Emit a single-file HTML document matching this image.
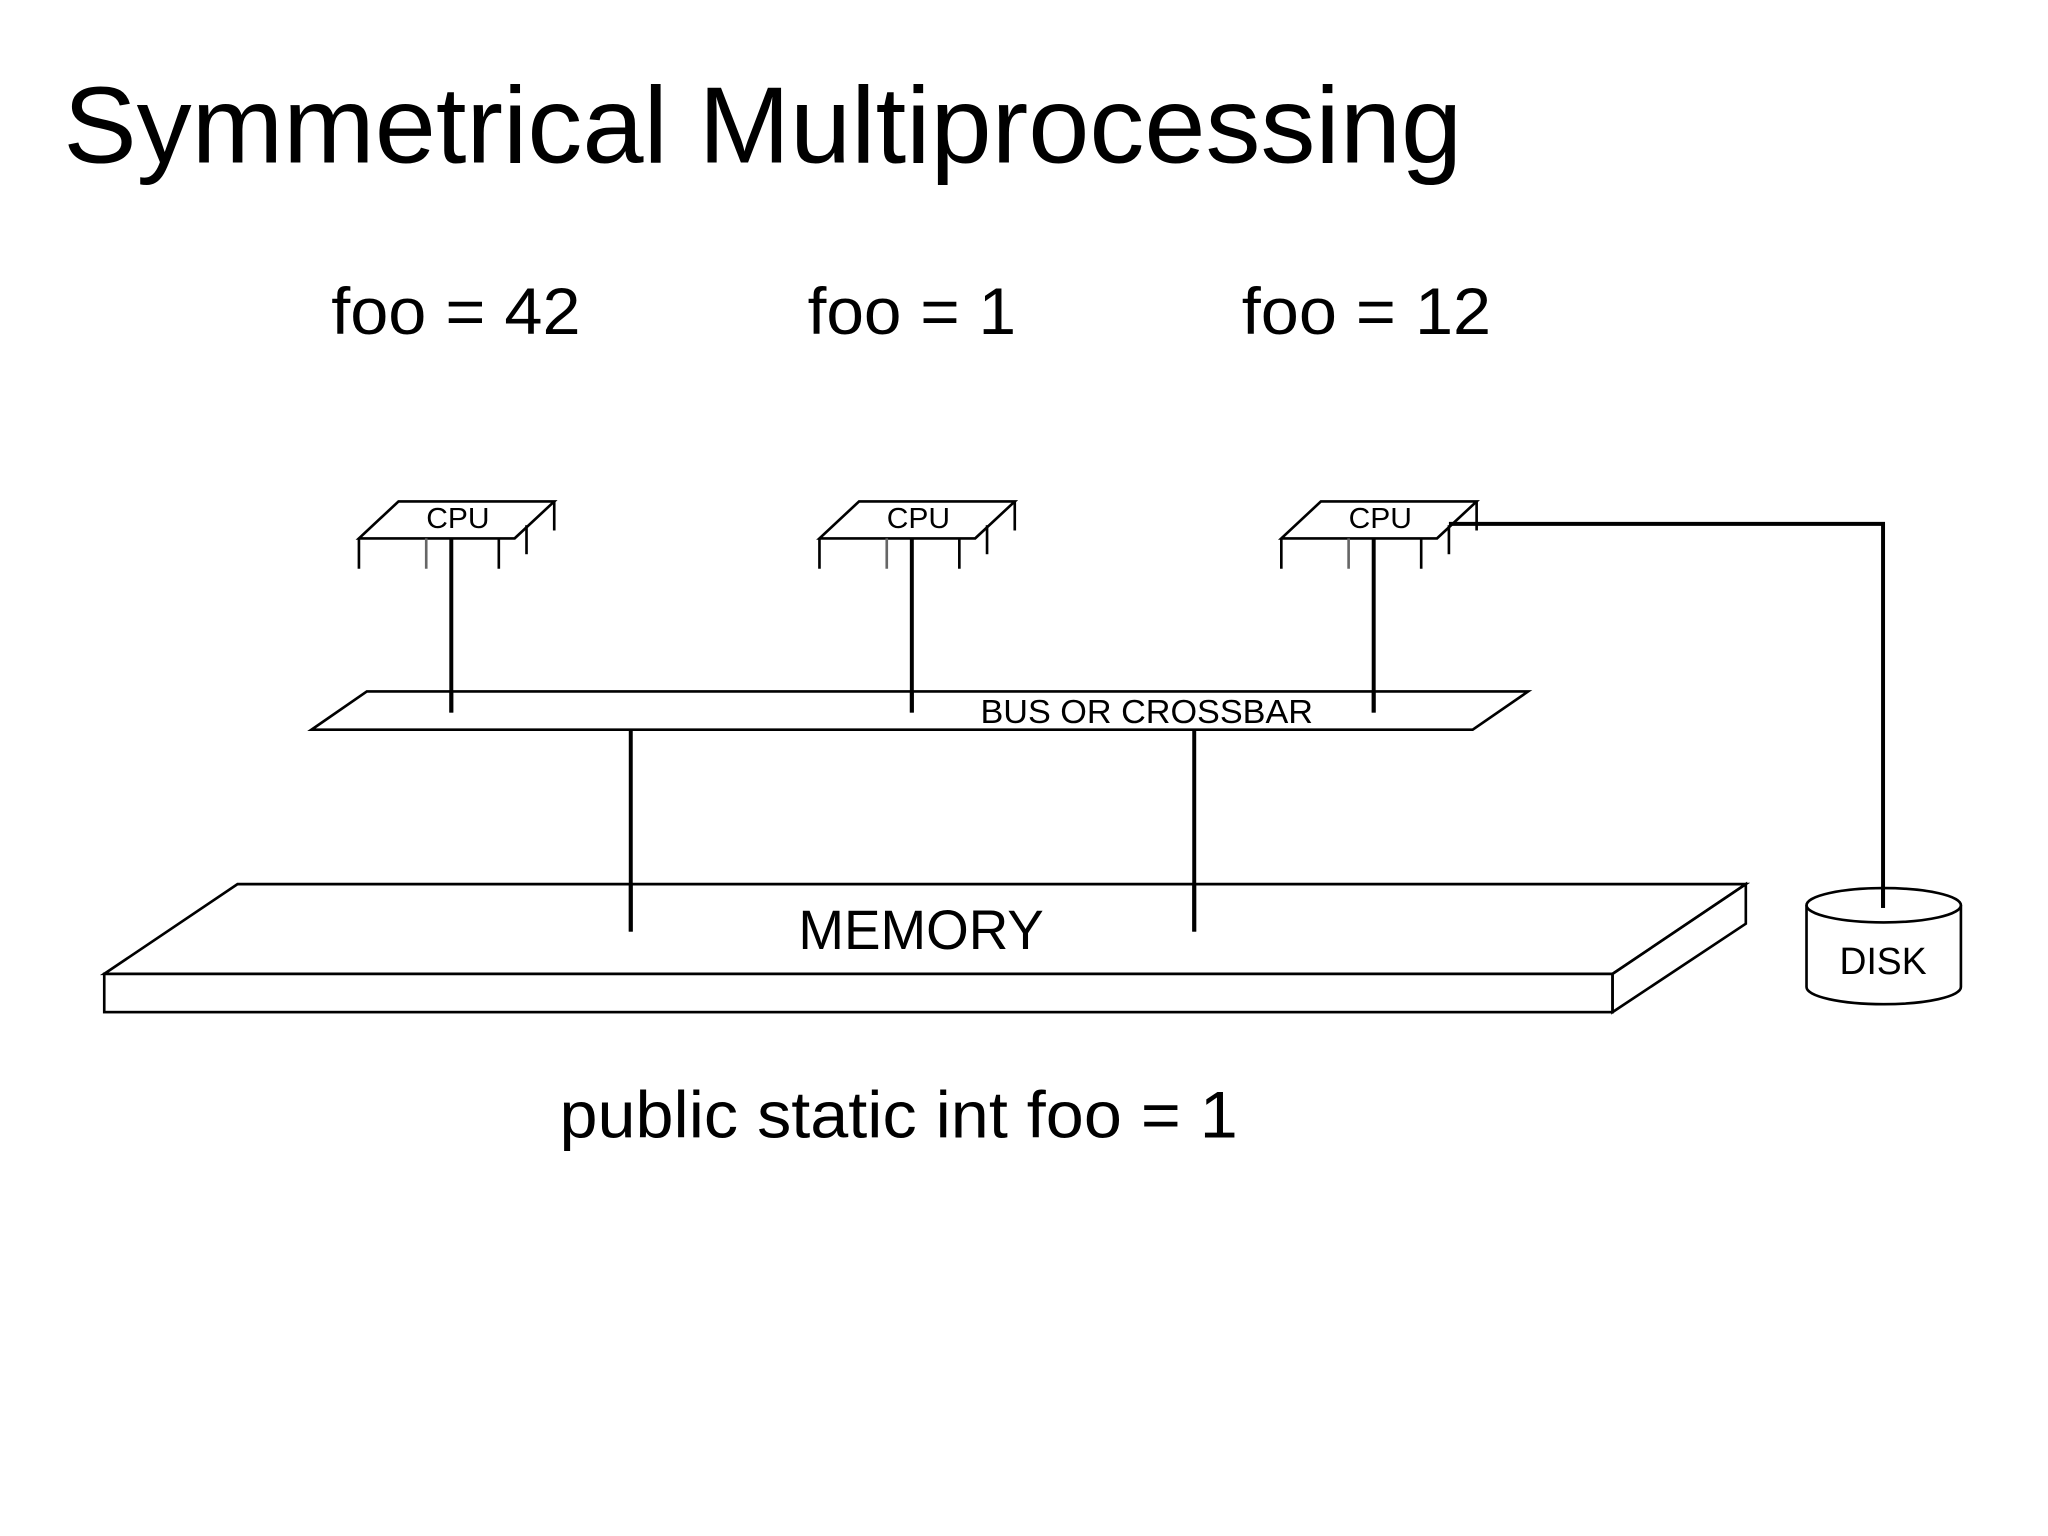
<!DOCTYPE html>
<html><head><meta charset="utf-8"><style>
html,body{margin:0;padding:0;background:#fff;}
svg{display:block;}
text{font-family:"Liberation Sans",Arial,sans-serif;fill:#000;}
</style></head><body>
<svg width="2048" height="1536" viewBox="0 0 1552 1164" xmlns="http://www.w3.org/2000/svg">
<rect width="1552" height="1164" fill="#fff"/>
<text x="48" y="123" font-size="82" textLength="1060" lengthAdjust="spacingAndGlyphs">Symmetrical Multiprocessing</text>
<text x="251" y="253" font-size="50" textLength="189" lengthAdjust="spacingAndGlyphs">foo = 42</text>
<text x="612" y="253" font-size="50" textLength="158" lengthAdjust="spacingAndGlyphs">foo = 1</text>
<text x="941" y="253" font-size="50" textLength="189" lengthAdjust="spacingAndGlyphs">foo = 12</text>

<g id="cpu" fill="none" stroke="#000" stroke-width="2">
  <polygon points="302,380 420,380 390,408 272,408" fill="#fff"/>
  <line x1="272" y1="408" x2="272" y2="431"/>
  <line x1="323" y1="408" x2="323" y2="431" stroke="#666"/>
  <line x1="378" y1="408" x2="378" y2="431"/>
  <line x1="399" y1="398" x2="399" y2="420"/>
  <line x1="420" y1="380" x2="420" y2="402"/>
  <line x1="342" y1="408" x2="342" y2="540" stroke-width="3"/>
</g>
<text x="347" y="400" font-size="22" text-anchor="middle" fill="#333" textLength="48" lengthAdjust="spacingAndGlyphs">CPU</text>
<use href="#cpu" x="349"/>
<text x="696" y="400" font-size="22" text-anchor="middle" fill="#333" textLength="48" lengthAdjust="spacingAndGlyphs">CPU</text>
<use href="#cpu" x="699"/>
<text x="1046" y="400" font-size="22" text-anchor="middle" fill="#333" textLength="48" lengthAdjust="spacingAndGlyphs">CPU</text>

<polyline points="1098,397 1427,397 1427,688" fill="none" stroke="#000" stroke-width="3"/>

<polygon points="278,524 1158,524 1116,553 236,553" fill="none" stroke="#000" stroke-width="2"/>
<line x1="342" y1="524" x2="342" y2="540" stroke="#000" stroke-width="3"/>
<line x1="691" y1="524" x2="691" y2="540" stroke="#000" stroke-width="3"/>
<line x1="1041" y1="524" x2="1041" y2="540" stroke="#000" stroke-width="3"/>
<text x="869" y="548" font-size="25" text-anchor="middle" fill="#333" textLength="252" lengthAdjust="spacingAndGlyphs">BUS OR CROSSBAR</text>

<line x1="478" y1="553" x2="478" y2="706" stroke="#000" stroke-width="3"/>
<line x1="905" y1="553" x2="905" y2="706" stroke="#000" stroke-width="3"/>

<g fill="none" stroke="#000" stroke-width="2">
  <polygon points="180,670 1323,670 1222,738 79,738"/>
  <rect x="79" y="738" width="1143" height="29"/>
  <polygon points="1222,738 1323,670 1323,700 1222,767"/>
</g>
<line x1="478" y1="670" x2="478" y2="706" stroke="#000" stroke-width="3"/>
<line x1="905" y1="670" x2="905" y2="706" stroke="#000" stroke-width="3"/>
<text x="698" y="719" font-size="42" text-anchor="middle" fill="#222" textLength="186" lengthAdjust="spacingAndGlyphs">MEMORY</text>

<g fill="none" stroke="#000" stroke-width="2">
  <path d="M1369,686 L1369,748 A58.5,13 0 0 0 1486,748 L1486,686"/>
  <ellipse cx="1427.5" cy="686" rx="58.5" ry="13"/>
</g>
<line x1="1427" y1="672" x2="1427" y2="688" stroke="#000" stroke-width="3"/>
<text x="1427" y="738" font-size="29" text-anchor="middle" fill="#222" textLength="66" lengthAdjust="spacingAndGlyphs">DISK</text>

<text x="424" y="862" font-size="50" textLength="514" lengthAdjust="spacingAndGlyphs">public static int foo = 1</text>
</svg>
</body></html>
